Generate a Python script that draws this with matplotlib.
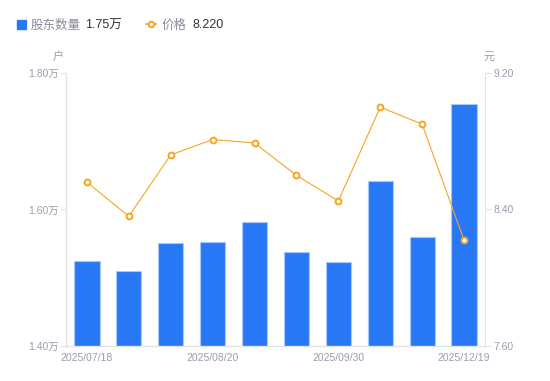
import matplotlib
matplotlib.use("Agg")
import matplotlib.pyplot as plt
from matplotlib.lines import Line2D
from matplotlib.patches import Rectangle

plt.rcParams['font.family'] = ['Liberation Sans', 'Noto Sans CJK SC', 'DejaVu Sans']

dates = ["2025/07/18", "2025/07/31", "2025/08/10", "2025/08/20", "2025/08/31",
         "2025/09/10", "2025/09/30", "2025/10/31", "2025/11/30", "2025/12/19"]
holders = [1.525, 1.510, 1.551, 1.552, 1.582, 1.538, 1.523, 1.642, 1.560, 1.755]
prices = [8.56, 8.36, 8.72, 8.81, 8.79, 8.60, 8.45, 9.00, 8.90, 8.22]
left_ticks = [1.40, 1.60, 1.80]
right_ticks = [7.60, 8.40, 9.20]
shown_idx = [0, 3, 6, 9]

BLUE = "#2878F5"
ORANGE = "#F5A623"
AX = "#E3E3E6"
TICK = "#9A9CB0"

fig = plt.figure(figsize=(5.5, 3.81), dpi=100)
ax = fig.add_axes([0.12, 0.0919, 0.7618, 0.7165])
x = list(range(len(dates)))
ax.bar(x, holders, width=0.6, color=BLUE, edgecolor="#A9C8FA", linewidth=0.8, zorder=2)
ax.set_xlim(-0.5, len(dates) - 0.5)
ax.set_ylim(left_ticks[0], left_ticks[-1])
ax.set_yticks(left_ticks)
ax.set_yticklabels([f"{v:.2f}万" for v in left_ticks])
ax.set_xticks([x[i] for i in shown_idx])
ax.set_xticklabels([dates[i] for i in shown_idx])
for s in ["top", "right"]:
    ax.spines[s].set_visible(False)
for s in ["left", "bottom"]:
    ax.spines[s].set_color(AX)
    ax.spines[s].set_linewidth(1)
ax.tick_params(axis="y", colors=AX, labelcolor=TICK, labelsize=7.5, length=4, pad=1)
ax.tick_params(axis="x", length=0, labelcolor=TICK, labelsize=7.5, pad=5)

ax2 = ax.twinx()
ax2.plot(x, prices, color=ORANGE, linewidth=0.8, marker="o", markersize=4.2,
         markerfacecolor="white", markeredgecolor=ORANGE, markeredgewidth=1.4, zorder=3)
ax2.set_ylim(right_ticks[0], right_ticks[-1])
ax2.set_yticks(right_ticks)
ax2.set_yticklabels([f"{v:.2f}" for v in right_ticks])
for s in ["top", "left", "bottom"]:
    ax2.spines[s].set_visible(False)
ax2.spines["right"].set_color(AX)
ax2.tick_params(axis="y", colors=AX, labelcolor=TICK, labelsize=7.5, length=4, pad=2)

# unit labels
fig.text(58 / 550, 1 - 57 / 381, "户", color=TICK, fontsize=8, ha="center", va="center")
fig.text(489 / 550, 1 - 57 / 381, "元", color=TICK, fontsize=8, ha="center", va="center")

# legend
ly = 1 - 24 / 381
fig.patches.append(Rectangle((17 / 550, 1 - 29 / 381), 9 / 550, 9 / 381,
                             transform=fig.transFigure, color=BLUE, figure=fig))
fig.text(31 / 550, ly - 1.5 / 381, "股东数量", color="#8A8C9C", fontsize=9, va="center")
fig.text(85 / 550, ly - 1.5 / 381, f"{holders[-1]:.2f}万", color="#333333", fontsize=9, va="center")
fig.lines.append(Line2D([146 / 550, 156 / 550], [ly] * 2, transform=fig.transFigure,
                        color=ORANGE, linewidth=1.2))
fig.lines.append(Line2D([151 / 550], [ly], transform=fig.transFigure, color=ORANGE,
                        marker="o", markersize=4, markerfacecolor="white",
                        markeredgewidth=1.4, linestyle="none"))
fig.text(162 / 550, ly - 1.5 / 381, "价格", color="#8A8C9C", fontsize=9, va="center")
fig.text(192 / 550, ly - 1.5 / 381, f"{prices[-1]:.3f}", color="#333333", fontsize=9, va="center")

fig.savefig("out.png", dpi=100)
